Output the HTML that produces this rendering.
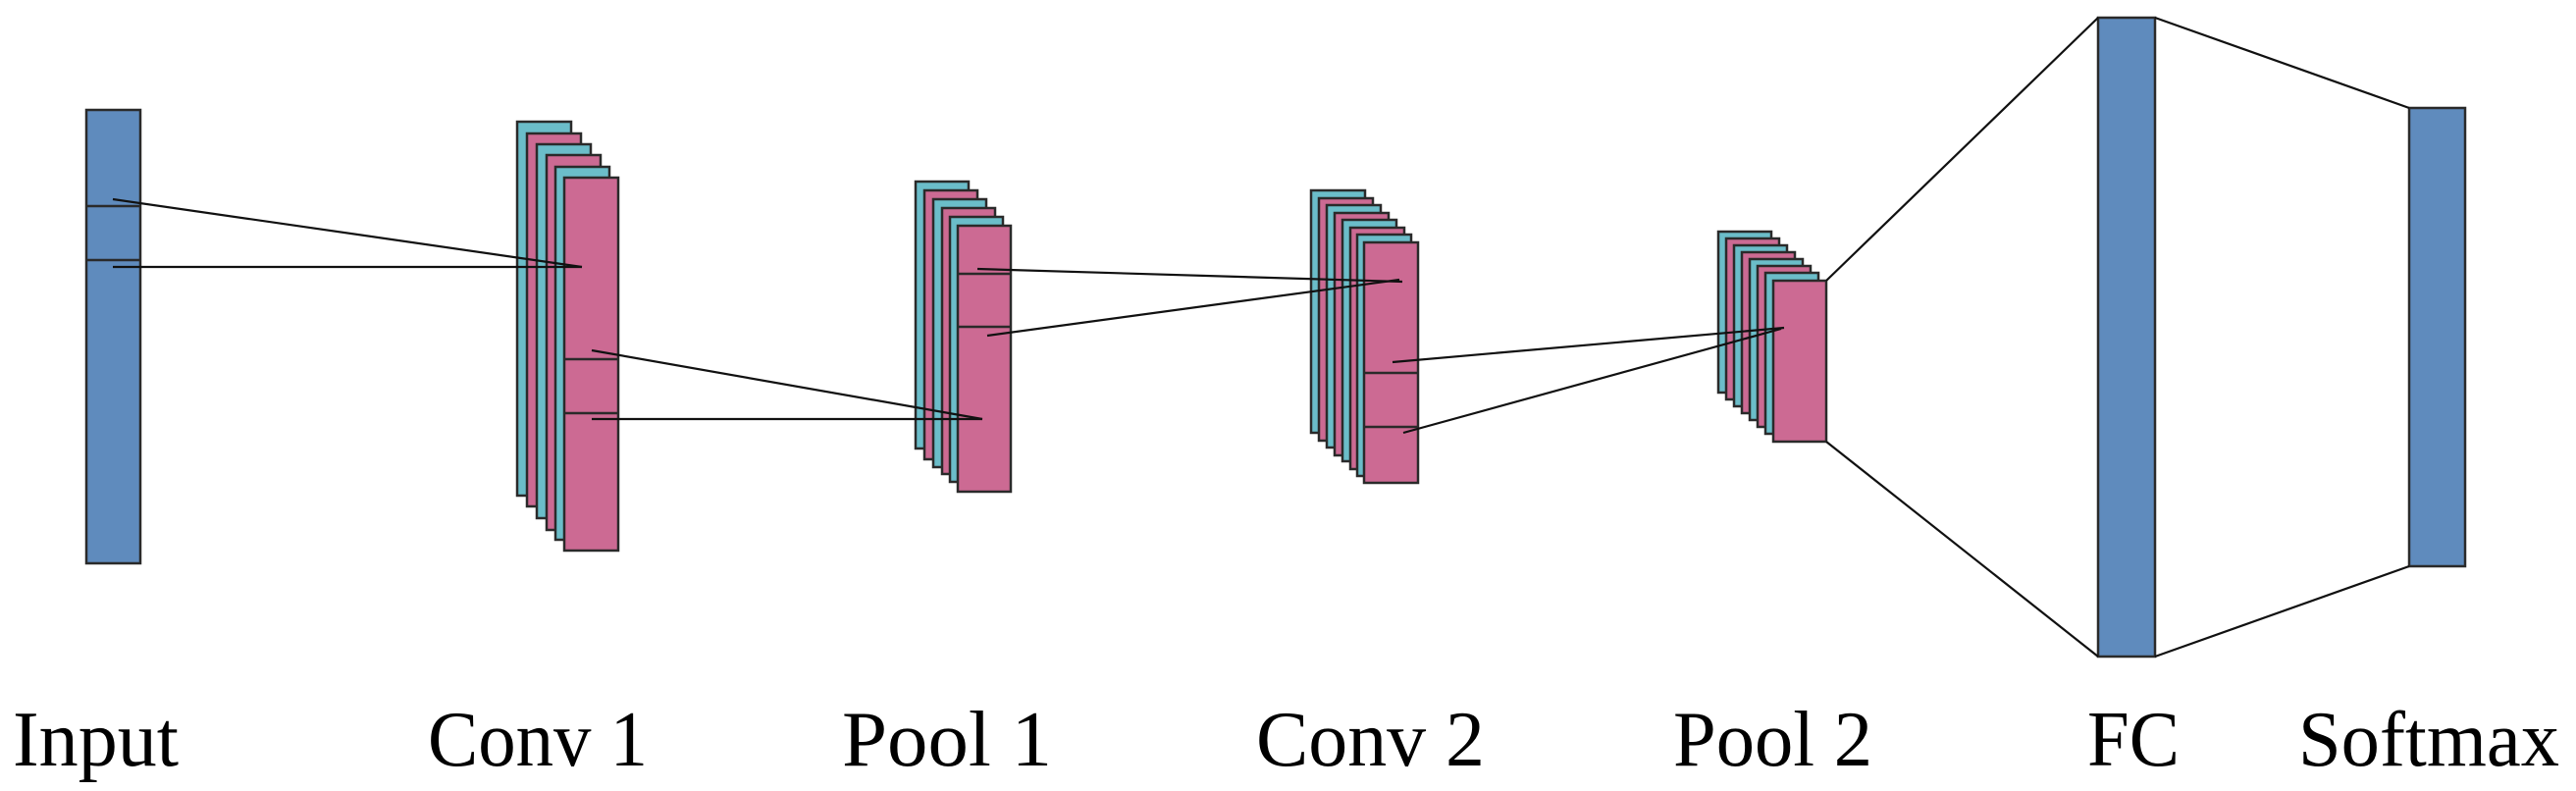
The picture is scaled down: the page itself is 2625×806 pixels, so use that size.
<!DOCTYPE html>
<html><head><meta charset="utf-8"><style>html,body{margin:0;padding:0;background:#fff}svg{display:block}</style></head>
<body>
<svg width="2625" height="806" viewBox="0 0 2625 806" xmlns="http://www.w3.org/2000/svg">
<g stroke="#2a2a2a" stroke-width="2.5">
<!-- Input -->
<rect x="88" y="112" width="55" height="462" fill="#5f8bbd"/>
<line x1="88" y1="210" x2="143" y2="210"/>
<line x1="88" y1="265" x2="143" y2="265"/>
<!-- Conv1 -->
<rect x="527" y="124" width="55" height="381" fill="#6bbdc9"/>
<rect x="537" y="136" width="55" height="380" fill="#cc6a93"/>
<rect x="547" y="147" width="55" height="381" fill="#6bbdc9"/>
<rect x="557" y="158" width="55" height="382" fill="#cc6a93"/>
<rect x="566" y="170" width="55" height="380" fill="#6bbdc9"/>
<rect x="575" y="181" width="55" height="380" fill="#cc6a93"/>
<line x1="575" y1="366" x2="630" y2="366"/>
<line x1="575" y1="421" x2="630" y2="421"/>
<!-- Pool1 -->
<rect x="933" y="185" width="54" height="272" fill="#6bbdc9"/>
<rect x="942" y="194" width="54" height="274" fill="#cc6a93"/>
<rect x="951" y="203" width="54" height="273" fill="#6bbdc9"/>
<rect x="960" y="212" width="54" height="271" fill="#cc6a93"/>
<rect x="968" y="221" width="54" height="270" fill="#6bbdc9"/>
<rect x="976" y="230" width="54" height="271" fill="#cc6a93"/>
<line x1="976" y1="279" x2="1030" y2="279"/>
<line x1="976" y1="333" x2="1030" y2="333"/>
<!-- Conv2 -->
<rect x="1336" y="194" width="55" height="247" fill="#6bbdc9"/>
<rect x="1344" y="202" width="55" height="247" fill="#cc6a93"/>
<rect x="1352" y="209" width="55" height="247" fill="#6bbdc9"/>
<rect x="1360" y="217" width="55" height="247" fill="#cc6a93"/>
<rect x="1368" y="224" width="55" height="246" fill="#6bbdc9"/>
<rect x="1376" y="232" width="55" height="246" fill="#cc6a93"/>
<rect x="1383" y="239" width="55" height="246" fill="#6bbdc9"/>
<rect x="1390" y="247" width="55" height="245" fill="#cc6a93"/>
<line x1="1390" y1="380" x2="1445" y2="380"/>
<line x1="1390" y1="435" x2="1445" y2="435"/>
<!-- Pool2 -->
<rect x="1751" y="236" width="54" height="164" fill="#6bbdc9"/>
<rect x="1759" y="243" width="54" height="164" fill="#cc6a93"/>
<rect x="1767" y="250" width="54" height="164" fill="#6bbdc9"/>
<rect x="1775" y="257" width="54" height="164" fill="#cc6a93"/>
<rect x="1783" y="264" width="54" height="164" fill="#6bbdc9"/>
<rect x="1791" y="271" width="54" height="164" fill="#cc6a93"/>
<rect x="1799" y="278" width="54" height="164" fill="#6bbdc9"/>
<rect x="1807" y="286" width="54" height="164" fill="#cc6a93"/>
<!-- FC, Softmax -->
<rect x="2138" y="18" width="58" height="651" fill="#5f8bbd"/>
<rect x="2455" y="110" width="57" height="467" fill="#5f8bbd"/>
</g>
<g stroke="#111" stroke-width="2.2" fill="none">
<line x1="115" y1="203" x2="593" y2="272"/>
<line x1="115" y1="272" x2="593" y2="272"/>
<line x1="603" y1="357" x2="1001" y2="427"/>
<line x1="603" y1="427" x2="1001" y2="427"/>
<line x1="996" y1="274" x2="1429" y2="287"/>
<line x1="1006" y1="342" x2="1426" y2="285"/>
<line x1="1419" y1="369" x2="1818" y2="334"/>
<line x1="1430" y1="441" x2="1815" y2="335"/>
<line x1="1861" y1="286" x2="2138" y2="18"/>
<line x1="1861" y1="450" x2="2138" y2="669"/>
<line x1="2196" y1="18" x2="2455" y2="110"/>
<line x1="2196" y1="669" x2="2455" y2="577"/>
</g>
<g font-family="Liberation Serif, serif" font-size="80" fill="#000">
<text x="13" y="780" textLength="169" lengthAdjust="spacingAndGlyphs">Input</text>
<text x="436" y="780" textLength="224" lengthAdjust="spacingAndGlyphs">Conv 1</text>
<text x="858" y="780" textLength="214" lengthAdjust="spacingAndGlyphs">Pool 1</text>
<text x="1280" y="780" textLength="233" lengthAdjust="spacingAndGlyphs">Conv 2</text>
<text x="1705" y="780" textLength="203" lengthAdjust="spacingAndGlyphs">Pool 2</text>
<text x="2127" y="780" textLength="94" lengthAdjust="spacingAndGlyphs">FC</text>
<text x="2342" y="780" textLength="266" lengthAdjust="spacingAndGlyphs">Softmax</text>
</g>
</svg>
</body></html>
